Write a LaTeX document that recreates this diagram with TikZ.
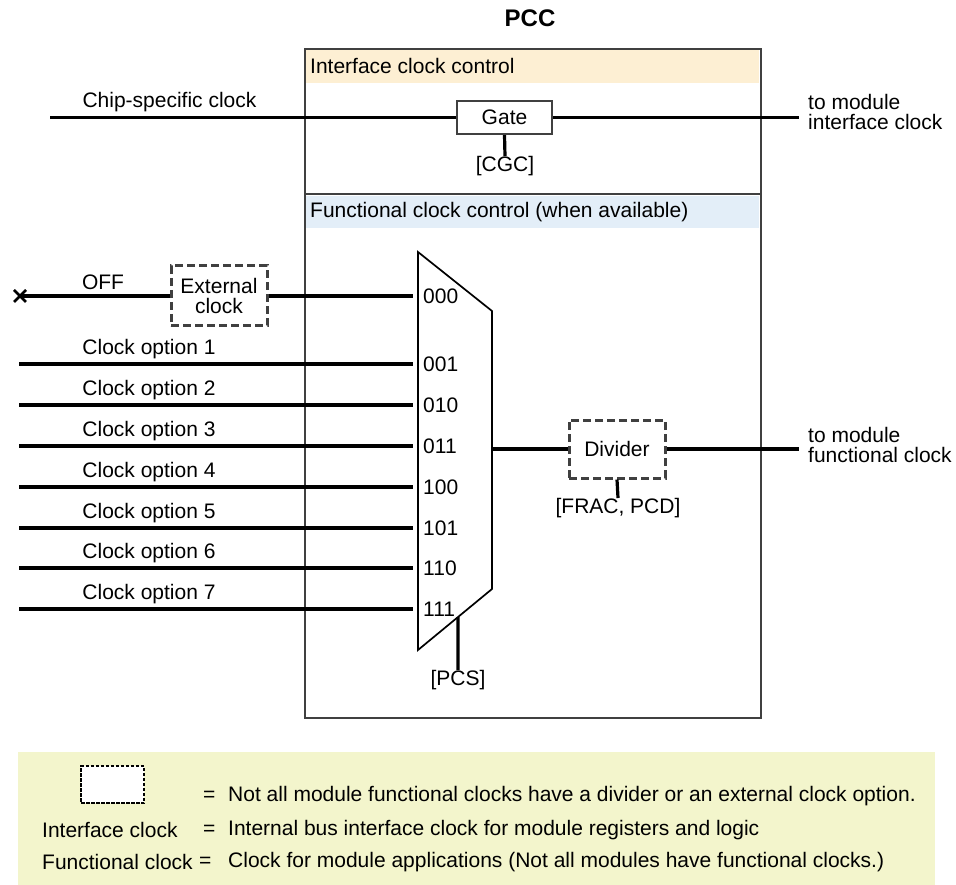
\documentclass[tikz,border=0pt]{standalone}
\usepackage{fontspec}
\setmainfont{Liberation Sans}
\usepackage{xcolor}
\usepackage{tikz}
\usetikzlibrary{positioning,calc}
\definecolor{ifband}{HTML}{FDEFD3}
\definecolor{fcband}{HTML}{E3EEF8}
\definecolor{legendbg}{HTML}{F3F5CC}
\definecolor{boxline}{HTML}{404040}
\tikzset{
  sig/.style={line width=3.2pt, draw=black},
  gatebox/.style={rectangle, draw=boxline, line width=2.4pt, fill=white,
                  minimum width=95pt, minimum height=33pt, inner sep=0pt},
  optbox/.style={rectangle, draw=boxline, line width=3pt, fill=white,
                 dash pattern=on 8pt off 4pt, align=center, inner sep=0pt},
  lbl/.style={inner sep=0pt, align=left},
}

\begin{document}
\begin{tikzpicture}[x=1pt, y=-1pt, font=\fontsize{21}{20}\selectfont]
  \useasboundingbox (0,0) rectangle (956,885);

  % PCC block with its two sections
  \fill[ifband] (305,49) rectangle (759,83);
  \fill[fcband] (305,196) rectangle (759,228);
  \node[draw=boxline, line width=2.2pt, minimum width=456pt, minimum height=669pt,
        inner sep=0pt, anchor=north west] (pcc) at (304,48) {};
  \draw[boxline, line width=2.2pt] (pcc.west |- 0,194) -- (pcc.east |- 0,194);
  \node[font=\bfseries\fontsize{24}{24}\selectfont] (title) at (530,18) {PCC};
  \node[lbl, anchor=west] (ifctl) at (310,66) {Interface clock control};
  \node[lbl, anchor=west] (fcctl) at (310,212) {Functional clock control (when available)};

  % interface clock path
  \node[gatebox] (gate) at (504.5,117.5) {Gate};
  \coordinate (chipin) at (50,117.5);
  \coordinate (ifout) at (799,117.5);
  \draw[sig] (chipin) -- (gate);
  \draw[sig] (gate) -- (ifout);
  \node[lbl] (chiplbl) at (169.5,102) {Chip-specific clock};
  \node[lbl, anchor=west] (ifoutlbl) at (808,112) {to module\\interface clock};
  \node[lbl] (cgc) at (505,166) {[CGC]};
  \draw[sig] (gate.south) -- (cgc.north);

  % functional clock mux
  \coordinate (mux-tl) at (418,252);
  \coordinate (mux-tr) at (492,311);
  \coordinate (mux-br) at (492,589);
  \coordinate (mux-bl) at (418,650);
  \draw[line width=1.7pt, line join=miter] (mux-tl) -- (mux-tr) -- (mux-br) -- (mux-bl) -- cycle;
  \foreach \i/\y/\code in {0/296/000, 1/364/001, 2/405/010, 3/446/011,
                           4/487/100, 5/528/101, 6/568/110, 7/609/111} {
    \node[lbl, anchor=west] (sel\i) at (423,\y) {\code};
    \coordinate (end\i) at (413,\y);
  }
  \foreach \i/\y in {1/364, 2/405, 3/446, 4/487, 5/528, 6/568, 7/609} {
    \coordinate (opt\i) at (19,\y);
    \draw[sig] (opt\i) -- (end\i);
    \node[lbl] (optlbl\i) at (149,{\y-15}) {Clock option \i};
  }

  % external clock input
  \node[optbox, minimum width=96pt, minimum height=60pt] (ext) at (219,296) {External\\clock};
  \coordinate (xend) at (20,296);
  \draw[line width=2.6pt] ($(xend)+(-6,-6)$) -- ($(xend)+(6,6)$)
                          ($(xend)+(-6,6)$) -- ($(xend)+(6,-6)$);
  \draw[sig] (xend) -- (ext.west);
  \draw[sig] (ext.east) -- (end0);
  \node[lbl] (offlbl) at (103,282) {OFF};

  \coordinate (pcs-top) at ($(mux-bl)!0.54!(mux-br)$);
  \node[lbl] (pcs) at (458,680) {[PCS]};
  \draw[sig] (pcs-top) -- (pcs.north);

  % divider
  \coordinate (muxout) at (492,449);
  \coordinate (fcout) at (799,449);
  \node[optbox, minimum width=96pt, minimum height=58pt] (div) at (617,449) {Divider};
  \draw[sig] (muxout) -- (div);
  \draw[sig] (div) -- (fcout);
  \node[lbl, anchor=west] (fcoutlbl) at (808,445) {to module\\functional clock};
  \node[lbl] (frac) at (618,508) {[FRAC, PCD]};
  \draw[sig] (div.south) -- (frac.north);

  % legend
  \fill[legendbg] (18,752) rectangle (935,885);
  \node[draw=black, line width=1.3pt, dash pattern=on 3.5pt off 1.5pt, fill=white,
        minimum width=63pt, minimum height=37pt, inner sep=0pt] (keybox) at (112.5,784.5) {};
  \node[lbl, anchor=west] (eq1) at (203,796) {=};
  \node[lbl, anchor=west] (key1) at (228,796) {Not all module functional clocks have a divider or an external clock option.};
  \node[lbl, anchor=west] (ifkey) at (42,830) {Interface clock};
  \node[lbl, anchor=west] (eq2) at (203,830) {=};
  \node[lbl, anchor=west] (key2) at (228,830) {Internal bus interface clock for module registers and logic};
  \node[lbl, anchor=west] (fckey) at (42,862) {Functional clock};
  \node[lbl, anchor=west] (eq3) at (199,862) {=};
  \node[lbl, anchor=west] (key3) at (228,862) {Clock for module applications (Not all modules have functional clocks.)};
\end{tikzpicture}
\end{document}
